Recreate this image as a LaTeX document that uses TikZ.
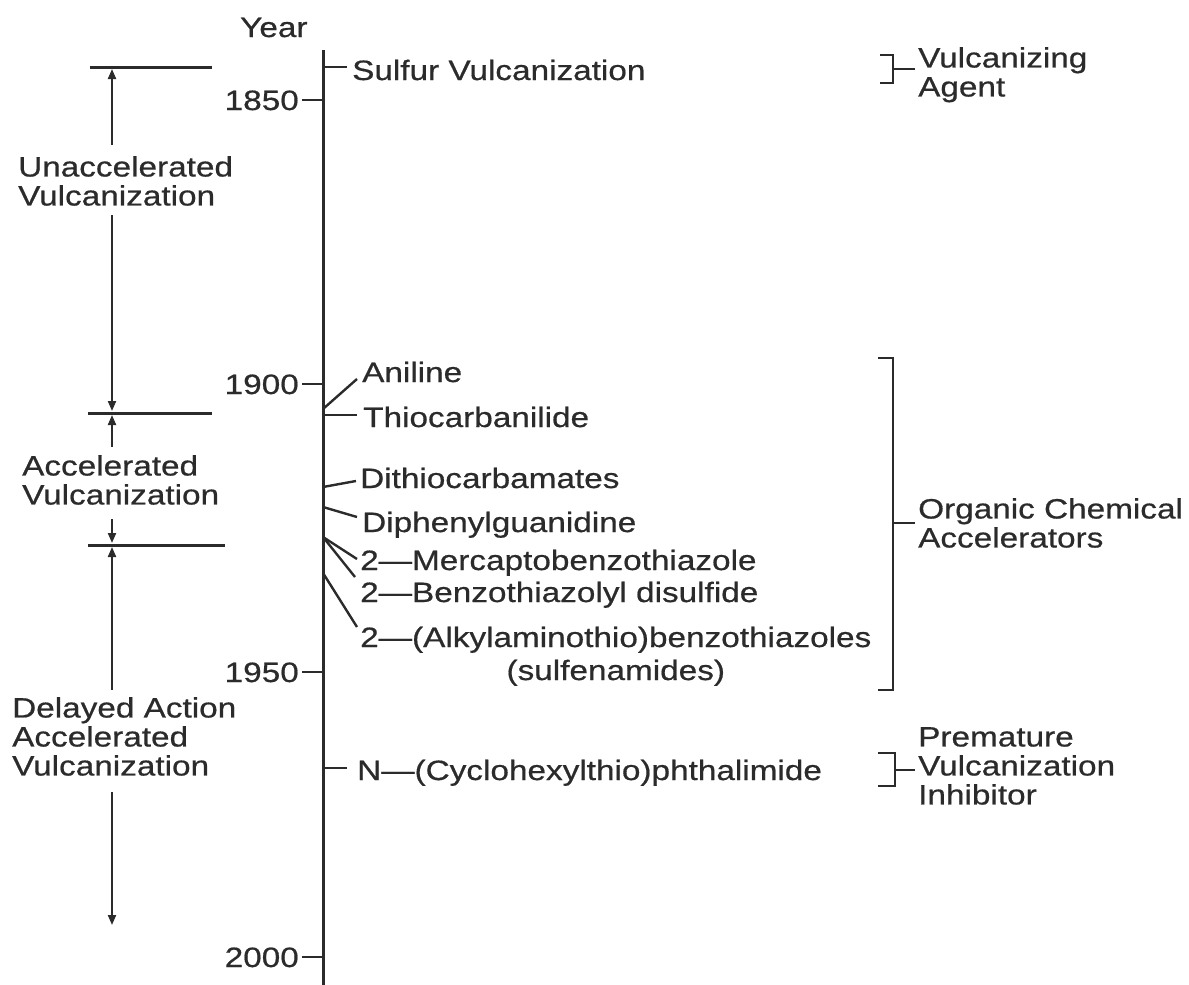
\documentclass[tikz,border=0pt]{standalone}
\usepackage{fontspec}
\setmainfont{Liberation Sans}[FakeStretch=1.19,FakeBold=0.6]
\usetikzlibrary{arrows.meta}
\definecolor{ink}{HTML}{2B2B2B}
\begin{document}
\begin{tikzpicture}[x=1pt,y=-1pt,
  lbl/.style={inner sep=0pt, font=\fontsize{28}{29}\selectfont, text=ink},
  slbl/.style={lbl, anchor=base west},
  mlbl/.style={lbl, align=left, anchor=north west},
  yearlbl/.style={lbl, anchor=base east},
  axisline/.style={draw=ink, line width=3pt},
  tickline/.style={draw=ink, line width=2.4pt},
  brk/.style={draw=ink, line width=2.4pt},
  bar/.style={draw=ink, line width=3pt},
  arr/.style={draw=ink, line width=2pt, -{Triangle[length=10pt,width=8pt]}},
]
\useasboundingbox (0,0) rectangle (1189,985);

% axis
\coordinate (axtop) at (323,50);
\coordinate (axbot) at (323,985);
\draw[axisline] (axtop) -- (axbot);
\node[slbl] (year) at (240,37) {Year};

% year ticks
\foreach \yr/\yy in {1850/100,1900/384,1950/672,2000/957}{
  \coordinate (t\yr) at (323,\yy);
  \coordinate (l\yr) at (302,\yy);
  \draw[tickline] (l\yr) -- (t\yr);
  \node[yearlbl] (y\yr) at (299,\yy+10) {\yr};
}

% left period markers
\coordinate (b1a) at (90,67);  \coordinate (b1b) at (212,67);
\coordinate (b2a) at (88,413); \coordinate (b2b) at (212,413);
\coordinate (b3a) at (88,545); \coordinate (b3b) at (225,545);
\draw[bar] (b1a) -- (b1b);
\draw[bar] (b2a) -- (b2b);
\draw[bar] (b3a) -- (b3b);

\node[mlbl] (unacc) at (18,156) {Unaccelerated\\Vulcanization};
\node[mlbl] (acc) at (22,455) {Accelerated\\Vulcanization};
\node[mlbl] (delayed) at (12,697) {Delayed Action\\Accelerated\\Vulcanization};

\coordinate (a1s) at (112,145); \coordinate (a1e) at (112,69);
\coordinate (a2s) at (112,215); \coordinate (a2e) at (112,411);
\coordinate (a3s) at (112,447); \coordinate (a3e) at (112,415);
\coordinate (a4s) at (112,519); \coordinate (a4e) at (112,543);
\coordinate (a5s) at (112,690); \coordinate (a5e) at (112,547);
\coordinate (a6s) at (112,792); \coordinate (a6e) at (112,925);
\draw[arr] (a1s) -- (a1e);
\draw[arr] (a2s) -- (a2e);
\draw[arr] (a3s) -- (a3e);
\draw[arr] (a4s) -- (a4e);
\draw[arr] (a5s) -- (a5e);
\draw[arr] (a6s) -- (a6e);

% entries
\node[slbl] (sulfur) at (352,80) {Sulfur Vulcanization};
\coordinate (cs0) at (323,67); \coordinate (cs1) at (347,67);
\draw[tickline] (cs0) -- (cs1);

\node[slbl] (aniline) at (362,382) {Aniline};
\coordinate (ca0) at (323,409); \coordinate (ca1) at (357,379);
\draw[tickline] (ca0) -- (ca1);

\node[slbl] (thio) at (363,427) {Thiocarbanilide};
\coordinate (ct0) at (323,415); \coordinate (ct1) at (357,415);
\draw[tickline] (ct0) -- (ct1);

\node[slbl] (dithio) at (360,488) {Dithiocarbamates};
\coordinate (cd0) at (323,487); \coordinate (cd1) at (356,481);
\draw[tickline] (cd0) -- (cd1);

\node[slbl] (diphenyl) at (362,532) {Diphenylguanidine};
\coordinate (cp0) at (323,507); \coordinate (cp1) at (357,517);
\draw[tickline] (cp0) -- (cp1);

\node[slbl] (mercapto) at (360,570) {2—Mercaptobenzothiazole};
\coordinate (cm0) at (323,537); \coordinate (cm1) at (357,559);
\draw[tickline] (cm0) -- (cm1);

\node[slbl] (disulf) at (360,602) {2—Benzothiazolyl disulfide};
\coordinate (cb1) at (355,577);
\draw[tickline] (cm0) -- (cb1);

\node[slbl] (alkyl) at (360,647) {2—(Alkylaminothio)benzothiazoles};
\node[lbl, anchor=base] (sulfen) at (alkyl.base |- 0,680) {(sulfenamides)};
\coordinate (ck0) at (323,573); \coordinate (ck1) at (357,627);
\draw[tickline] (ck0) -- (ck1);

\node[slbl] (cyclo) at (357,780) {N—(Cyclohexylthio)phthalimide};
\coordinate (cc0) at (323,768); \coordinate (cc1) at (347,768);
\draw[tickline] (cc0) -- (cc1);

% right brackets
\coordinate (v1) at (880,55); \coordinate (v2) at (893,55);
\coordinate (v3) at (893,83); \coordinate (v4) at (880,83);
\coordinate (vm) at (893,69); \coordinate (vs) at (915,69);
\draw[brk] (v1) -- (v2) -- (v3) -- (v4);
\draw[brk] (vm) -- (vs);
\node[mlbl] (agent) at (918,47) {Vulcanizing\\Agent};

\coordinate (o1) at (878,358); \coordinate (o2) at (893,358);
\coordinate (o3) at (893,690); \coordinate (o4) at (878,690);
\coordinate (om) at (893,523); \coordinate (os) at (915,523);
\draw[brk] (o1) -- (o2) -- (o3) -- (o4);
\draw[brk] (om) -- (os);
\node[mlbl] (organic) at (918,498) {Organic Chemical\\Accelerators};

\coordinate (p1) at (878,753); \coordinate (p2) at (895,753);
\coordinate (p3) at (895,786); \coordinate (p4) at (878,786);
\coordinate (pm) at (895,770); \coordinate (ps) at (915,770);
\draw[brk] (p1) -- (p2) -- (p3) -- (p4);
\draw[brk] (pm) -- (ps);
\node[mlbl] (inhib) at (918,727) {Premature\\Vulcanization\\Inhibitor};
\end{tikzpicture}
\end{document}
